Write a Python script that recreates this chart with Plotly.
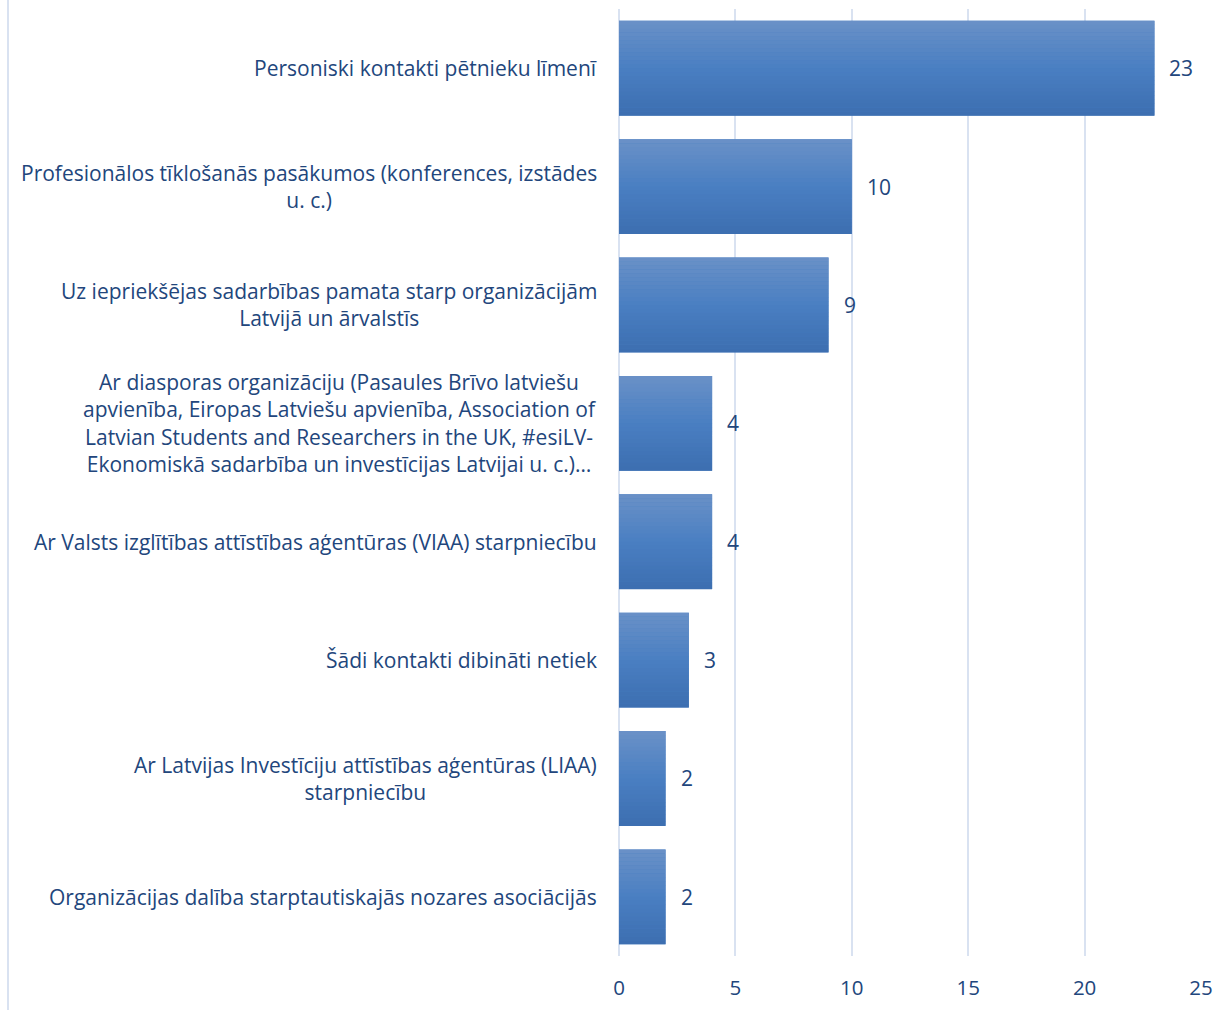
import plotly.graph_objects as go

categories = [
    "Personiski kontakti pētnieku līmenī",
    "Profesionālos tīklošanās pasākumos (konferences, izstādes<br>u. c.)",
    "Uz iepriekšējas sadarbības pamata starp organizācijām<br>Latvijā un ārvalstīs",
    "Ar diasporas organizāciju (Pasaules Brīvo latviešu<br>apvienība, Eiropas Latviešu apvienība, Association of<br>Latvian Students and Researchers in the UK, #esiLV-<br>Ekonomiskā sadarbība un investīcijas Latvijai u. c.)…",
    "Ar Valsts izglītības attīstības aģentūras (VIAA) starpniecību",
    "Šādi kontakti dibināti netiek",
    "Ar Latvijas Investīciju attīstības aģentūras (LIAA)<br>starpniecību",
    "Organizācijas dalība starptautiskajās nozares asociācijās",
]
values = [23, 10, 9, 4, 4, 3, 2, 2]
x_ticks = [0, 5, 10, 15, 20, 25]

TEXT = "#22467c"
FONT = "Open Sans"
ids = list(range(len(categories)))

def lerp(c1, c2, t):
    return tuple(round(a + (b - a) * t) for a, b in zip(c1, c2))

top_c = (0x6A, 0x91, 0xC7)
mid_c = (0x4A, 0x7F, 0xC2)
bot_c = (0x3C, 0x6E, 0xB0)

fig = go.Figure()
# solid base bar
fig.add_trace(go.Bar(
    x=values, y=ids, orientation="h", width=0.8,
    marker=dict(color="rgb(%d,%d,%d)" % mid_c, line=dict(width=0)),
    hoverinfo="skip",
))
N = 24
bw = 0.8 / N
for i in range(N):
    t = (i + 0.5) / N
    if t < 0.5:
        c = lerp(top_c, mid_c, t / 0.5)
    else:
        c = lerp(mid_c, bot_c, (t - 0.5) / 0.5)
    fig.add_trace(go.Bar(
        x=values, y=ids, orientation="h", width=bw * 1.05, offset=-0.4 + i * bw,
        marker=dict(color="rgb(%d,%d,%d)" % c, line=dict(width=0)),
        hoverinfo="skip", showlegend=False,
    ))

for i, (cat, v) in enumerate(zip(categories, values)):
    fig.add_annotation(
        x=0, y=i, xref="paper", yref="y", xanchor="right", yanchor="middle",
        xshift=-20, text=cat, showarrow=False, align="center",
        font=dict(family=FONT, size=21, color=TEXT),
    )
    fig.add_annotation(
        x=v, y=i, xref="x", yref="y", xanchor="left", yanchor="middle",
        xshift=13, text=str(v), showarrow=False,
        font=dict(family=FONT, size=21, color=TEXT),
    )

fig.add_shape(type="line", xref="paper", yref="paper",
              x0=-611 / 582, x1=-611 / 582, y0=-0.06, y1=1.01,
              line=dict(color="#d9e2f1", width=2))

fig.update_layout(
    width=1231, height=1010,
    margin=dict(l=619, r=30, t=9, b=54),
    paper_bgcolor="white", plot_bgcolor="white",
    barmode="overlay", showlegend=False,
    xaxis=dict(range=[0, 25], tickvals=x_ticks, showgrid=True,
               gridcolor="#d9e2f1", gridwidth=2, zeroline=True,
               zerolinecolor="#d9e2f1", zerolinewidth=2,
               tickfont=dict(family=FONT, size=20.5, color=TEXT),
               ticks="", ticklabelstandoff=17),
    yaxis=dict(range=[7.5, -0.5], showticklabels=False, showgrid=False,
               zeroline=False, ticks=""),
)

fig.write_html("out.html")
